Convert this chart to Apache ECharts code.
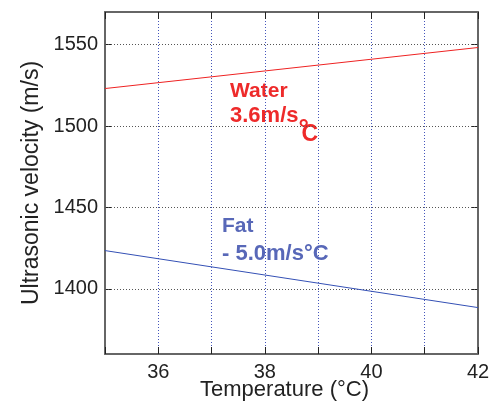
<!DOCTYPE html>
<html>
<head>
<meta charset="utf-8">
<script src="https://cdn.jsdelivr.net/npm/echarts@6/dist/echarts.min.js"></script>
<style>html,body{margin:0;padding:0;background:#fff;}#c{width:492px;height:403px;}</style>
</head>
<body>
<div id="c"></div>
<script>
const temps = [35, 42];
const water = [1523, 1548.2];
const fat = [1423.5, 1388.5];
const xTickLabels = [36, 38, 40, 42];
const yTickValues = [1400, 1450, 1500, 1550];

const FONT = '"Liberation Sans", Arial, sans-serif';
const BOLD = 'bold 22px ' + FONT;
const ctx = document.createElement('canvas').getContext('2d');
ctx.font = BOLD;
const wWidth = ctx.measureText('3.6m/s').width;

const chart = echarts.init(document.getElementById('c'));
const axisLine = {show: true, lineStyle: {color: '#666', width: 2}};
const opt = {
  animation: false,
  grid: {left: 105, right: 14, top: 12, bottom: 49, outerBoundsMode: 'none', containLabel: false},
  xAxis: [{
    type: 'value', min: 35, max: 42, interval: 1,
    name: 'Temperature (°C)', nameLocation: 'middle', nameGap: 25, nameMoveOverlap: false,
    nameTextStyle: {fontFamily: FONT, fontSize: 22, color: '#222', padding: [0, 14, 0, 0]},
    axisLine: axisLine,
    axisTick: {show: true, inside: true, length: 7, lineStyle: {color: '#222', width: 1}},
    axisLabel: {fontFamily: FONT, fontSize: 20, color: '#222', margin: 8,
      formatter: v => xTickLabels.indexOf(v) >= 0 ? String(v) : ''},
    splitLine: {show: true, lineStyle: {color: '#4455bb', type: [1, 2], width: 1}}
  }, {
    type: 'value', min: 35, max: 42, interval: 1, position: 'top',
    axisLine: axisLine,
    axisTick: {show: true, inside: true, length: 7, lineStyle: {color: '#222', width: 1}},
    axisLabel: {show: false}, splitLine: {show: false}
  }],
  yAxis: [{
    type: 'value', min: 1360, max: 1570, interval: 10,
    name: 'Ultrasonic velocity (m/s)', nameLocation: 'middle', nameGap: 62, nameMoveOverlap: false,
    nameTextStyle: {fontFamily: FONT, fontSize: 23, color: '#222'},
    axisLine: axisLine,
    axisTick: {show: true, inside: true, length: 7, customValues: yTickValues, lineStyle: {color: '#222', width: 1}},
    axisLabel: {fontFamily: FONT, fontSize: 20, color: '#222', margin: 7, customValues: yTickValues,
      formatter: v => String(v)},
    splitLine: {show: false}
  }, {
    type: 'value', min: 1360, max: 1570, interval: 10, position: 'right',
    axisLine: axisLine,
    axisTick: {show: true, inside: true, length: 7, customValues: yTickValues, lineStyle: {color: '#222', width: 1}},
    axisLabel: {show: false}, splitLine: {show: false}
  }],
  series: [{
    type: 'line', name: 'Water', symbol: 'none', z: 3,
    data: temps.map((t, i) => [t, water[i]]),
    lineStyle: {color: '#ee2222', width: 1},
    markLine: {
      silent: true, symbol: 'none', label: {show: false}, z: 1,
      lineStyle: {color: '#555', type: [1, 2], width: 1},
      data: yTickValues.map(v => ({yAxis: v}))
    }
  }, {
    type: 'line', name: 'Fat', symbol: 'none', z: 3,
    data: temps.map((t, i) => [t, fat[i]]),
    lineStyle: {color: '#3450b5', width: 1}
  }],
  graphic: [
    {type: 'text', left: 230, top: 81, style: {text: 'Water', fill: '#ee2a2a', font: 'bold 21px ' + FONT}},
    {type: 'text', left: 230, top: 105, style: {text: '3.6m/s', fill: '#ee2a2a', font: BOLD}},
    {type: 'text', left: 230 + wWidth, top: 117, style: {text: '°', fill: '#ee2a2a', font: 'bold 26px ' + FONT}},
    {type: 'text', left: 230 + wWidth + 3, top: 123, style: {text: 'C', fill: '#ee2a2a', font: 'bold 23px ' + FONT}},
    {type: 'text', left: 222, top: 216, style: {text: 'Fat', fill: '#5868b8', font: 'bold 21px ' + FONT}},
    {type: 'text', left: 222, top: 243, style: {text: '- 5.0m/s°C', fill: '#5868b8', font: BOLD}}
  ]
};
chart.setOption(opt);
</script>
</body>
</html>
